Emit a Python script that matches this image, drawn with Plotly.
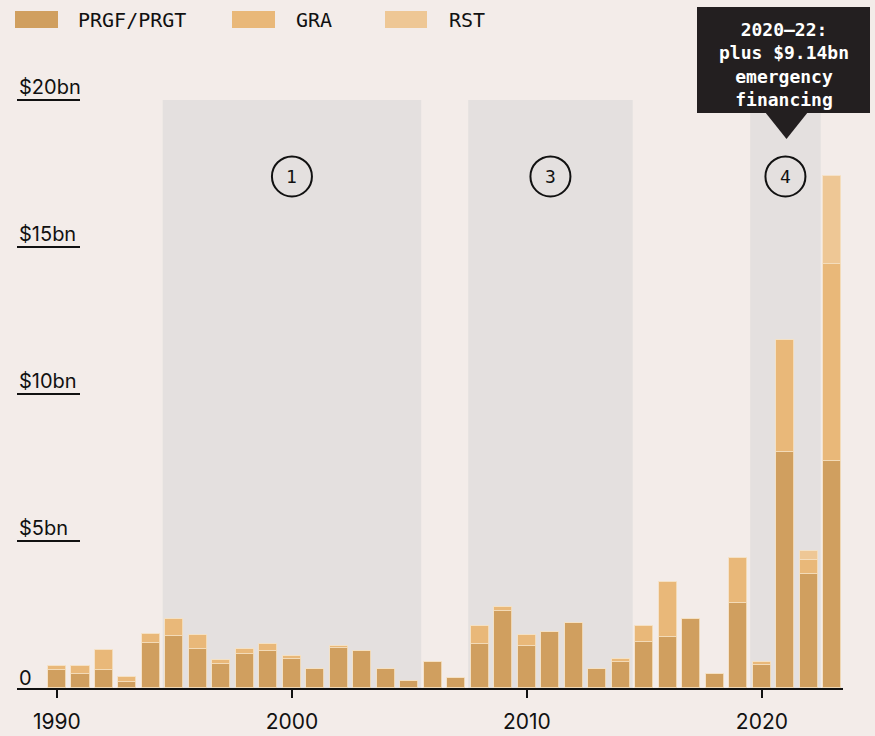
import plotly.graph_objects as go

years = list(range(1990, 2024))
prgf = [0.62, 0.49, 0.62, 0.22, 1.54, 1.78, 1.34, 0.83, 1.14, 1.27,
        0.98, 0.65, 1.37, 1.25, 0.64, 0.24, 0.90, 0.34, 1.49, 2.63,
        1.44, 1.90, 2.20, 0.65, 0.90, 1.58, 1.75, 2.35, 0.49, 2.90,
        0.79, 8.02, 3.89, 7.72]
gra = [0.12, 0.25, 0.67, 0.17, 0.31, 0.57, 0.46, 0.11, 0.20, 0.23,
       0.11, 0.00, 0.06, 0.00, 0.00, 0.00, 0.00, 0.00, 0.61, 0.13,
       0.36, 0.00, 0.00, 0.00, 0.09, 0.52, 1.86, 0.00, 0.00, 1.51,
       0.09, 3.82, 0.45, 6.71]
rst = [0.0] * 32 + [0.32, 3.00]

series_names = ["PRGF/PRGT", "GRA", "RST"]
series_colors = ["#d09f5f", "#e9b879", "#eec795"]

periods = [(1994.5, 2005.5, "1", 2000), (2007.5, 2014.5, "3", 2011), (2019.5, 2022.5, "4", 2021)]
period_top = 20
circle_y = 17.4

ytick_vals = [20, 15, 10, 5]
ytick_text = ["$20bn", "$15bn", "$10bn", "$5bn"]
xtick_vals = [1990, 2000, 2010, 2020]
xtick_text = ["1990", "2000", "2010", "2020"]

callout_lines = ["2020–22:", "plus $9.14bn", "emergency", "financing"]

BG = "#f3ece9"
SHADE = "#e4e0df"
INK = "#111111"

W, H = 875, 736
ML, MR, MT, MB = 17, 32, 60, 48
PW = W - ML - MR
PH = H - MT - MB


def px(x):
    return (x - ML) / PW


def py(y):
    return (H - MB - y) / PH


fig = go.Figure()
for vals, name, col in zip([prgf, gra, rst], series_names, series_colors):
    fig.add_trace(go.Bar(
        x=years, y=vals, name=name, width=0.77,
        marker=dict(color=col, line=dict(color="rgba(245,225,195,0.85)", width=1)),
        showlegend=False,
    ))

shapes = []
annotations = []

for x0, x1, lab, cx in periods:
    shapes.append(dict(type="rect", xref="x", yref="y", x0=x0, x1=x1, y0=0, y1=period_top,
                       fillcolor=SHADE, line=dict(width=0), layer="below"))
    shapes.append(dict(type="circle", xref="x", yref="y", xsizemode="pixel", ysizemode="pixel",
                       xanchor=cx, yanchor=circle_y, x0=-20, x1=20, y0=-20, y1=20,
                       line=dict(color=INK, width=2), fillcolor="rgba(0,0,0,0)"))
    annotations.append(dict(x=cx, y=circle_y, xref="x", yref="y", text=lab, showarrow=False,
                            font=dict(family="DejaVu Sans Mono", size=18, color=INK)))

# y-axis labels with underlines
for v, t in zip(ytick_vals, ytick_text):
    shapes.append(dict(type="line", xref="paper", yref="y", x0=px(17), x1=px(80), y0=v, y1=v,
                       line=dict(color=INK, width=2)))
    annotations.append(dict(x=px(17), y=v, xref="paper", yref="y", text=t, showarrow=False,
                            xanchor="left", yanchor="bottom", yshift=-1,
                            font=dict(family="Inter", size=20, color=INK)))
annotations.append(dict(x=px(17), y=0, xref="paper", yref="y", text="0", showarrow=False,
                        xanchor="left", yanchor="bottom", yshift=-4,
                        font=dict(family="Inter", size=20, color=INK)))

# custom legend
legend_sw = [(15, 58, 76), (232, 275, 294), (385, 427, 447)]
for (sx0, sx1, tx), name, col in zip(legend_sw, series_names, series_colors):
    shapes.append(dict(type="rect", xref="paper", yref="paper", x0=px(sx0), x1=px(sx1),
                       y0=py(28), y1=py(11), fillcolor=col, line=dict(width=0)))
    annotations.append(dict(x=px(tx), y=py(19.5), xref="paper", yref="paper", text=name,
                            showarrow=False, xanchor="left", yanchor="middle",
                            font=dict(family="DejaVu Sans Mono", size=20, color=INK)))

# callout box
shapes.append(dict(type="rect", xref="paper", yref="paper", x0=px(697), x1=px(870),
                   y0=py(113), y1=py(7), fillcolor="#231f20", line=dict(width=0)))
shapes.append(dict(type="path", xref="paper", yref="paper",
                   path=f"M {px(765)} {py(112)} L {px(808)} {py(112)} L {px(786.5)} {py(139)} Z",
                   fillcolor="#231f20", line=dict(width=0)))
annotations.append(dict(x=px(784), y=py(64), xref="paper", yref="paper",
                        text="<br>".join(f"<b>{l}</b>" for l in callout_lines),
                        showarrow=False, xanchor="center", yanchor="middle", align="center",
                        font=dict(family="DejaVu Sans Mono", size=18, color="white")))

fig.update_layout(
    barmode="stack",
    width=W, height=H,
    margin=dict(l=ML, r=MR, t=MT, b=MB, autoexpand=False),
    paper_bgcolor=BG, plot_bgcolor=BG,
    bargap=0,
    shapes=shapes, annotations=annotations,
    xaxis=dict(range=[1988.30, 2023.45], tickvals=xtick_vals, ticktext=xtick_text,
               automargin=False, ticklabelstandoff=6,
               showgrid=False, zeroline=False, showline=True, linecolor=INK, linewidth=2,
               ticks="outside", ticklen=8, tickwidth=2, tickcolor=INK,
               tickfont=dict(family="Inter", size=21, color=INK)),
    yaxis=dict(range=[0, (H - MB - MT) / 29.4], showgrid=False, zeroline=False,
               automargin=False, showticklabels=False, showline=False),
    showlegend=False,
)

fig.write_html(
    "out.html",
    config={"displayModeBar": False},
    post_script="document.body.style.margin='0';document.body.style.padding='0';"
                "document.body.style.background='#f3ece9';document.body.style.overflow='hidden';",
)
